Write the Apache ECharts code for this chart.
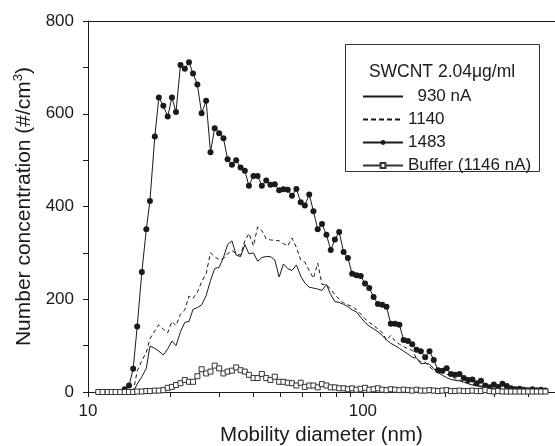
<!DOCTYPE html>
<html>
<head>
<meta charset="utf-8">
<script src="https://cdn.jsdelivr.net/npm/echarts@6.0.0/dist/echarts.min.js"></script>
<style>
  html, body { margin: 0; padding: 0; background: #fff; }
  #main { width: 555px; height: 446px; }
</style>
</head>
<body>
<div id="main"></div>
<script>
// SMPS channel midpoints (nm), 64 channels per decade
var diam = [10.2, 10.6, 10.9, 11.3, 11.8, 12.2, 12.6, 13.1, 13.6, 14.1,
  14.6, 15.1, 15.7, 16.3, 16.8, 17.5, 18.1, 18.8, 19.5, 20.2,
  20.9, 21.7, 22.5, 23.3, 24.1, 25.0, 25.9, 26.9, 27.9, 28.9,
  30.0, 31.1, 32.2, 33.4, 34.6, 35.9, 37.2, 38.5, 40.0, 41.4,
  42.9, 44.5, 46.1, 47.8, 49.6, 51.4, 53.3, 55.2, 57.3, 59.4,
  61.5, 63.8, 66.1, 68.5, 71.0, 73.7, 76.4, 79.1, 82.0, 85.1,
  88.2, 91.4, 94.7, 98.2, 101.8, 105.5, 109.4, 113.4, 117.6, 121.9,
  126.3, 131.0, 135.8, 140.7, 145.9, 151.2, 156.8, 162.5, 168.5, 174.7,
  181.1, 187.7, 194.6, 201.7, 209.1, 216.7, 224.7, 232.9, 241.4, 250.3,
  259.5, 269.0, 278.8, 289.0, 299.6, 310.6, 322.0, 333.8, 346.0, 358.7,
  371.8, 385.4, 399.5, 414.2, 429.4, 445.1, 461.4];

// 930 nA (solid), starts at channel 10
var start930 = 10;
var conc930 = [0, 17, 33, 51, 99, 94, 88, 80, 93, 110,
  100, 130, 150, 152, 178, 182, 188, 208, 240, 266,
  269, 290, 318, 326, 295, 292, 318, 298, 300, 282,
  290, 292, 292, 285, 248, 276, 266, 262, 274, 250,
  235, 226, 224, 222, 219, 232, 210, 195, 193, 189,
  184, 177, 173, 161, 150, 142, 136, 130, 122, 112,
  105, 100, 94, 88, 82, 75, 73, 61, 62, 60,
  50, 42, 36, 31, 27, 25, 24, 21, 18, 15,
  13, 11, 9, 8, 7, 6, 5, 5, 4, 4,
  3, 3, 2, 2, 2, 1, 1];

// 1140 nA (dashed), starts at channel 10
var start1140 = 10;
var conc1140 = [0, 45, 68, 85, 115, 132, 145, 135, 128, 152,
  143, 168, 177, 207, 202, 215, 238, 255, 300, 292,
  285, 288, 298, 305, 298, 295, 326, 342, 315, 356,
  348, 330, 328, 327, 326, 320, 315, 332, 312, 285,
  280, 262, 245, 278, 232, 231, 222, 210, 200, 192,
  188, 184, 178, 168, 158, 150, 143, 136, 128, 112,
  122, 110, 103, 98, 93, 90, 72, 65, 64, 55,
  46, 50, 41, 38, 36, 28, 26, 22, 20, 17,
  15, 13, 11, 9, 8, 7, 6, 5, 5, 4,
  4, 3, 3, 2, 2, 2, 1];

// 1483 nA (dots), starts at channel 8
var start1483 = 8;
var conc1483 = [6, 14, 50, 141, 259, 351, 412, 551, 635, 617,
  594, 635, 604, 705, 697, 711, 687, 663, 601, 628,
  517, 569, 558, 547, 502, 490, 500, 484, 477, 445,
  466, 466, 445, 456, 447, 448, 435, 437, 436, 423,
  438, 409, 402, 426, 390, 351, 362, 339, 306, 329,
  345, 302, 289, 255, 252, 250, 234, 224, 205, 190,
  188, 184, 147, 147, 145, 112, 110, 103, 91, 88,
  75, 88, 69, 47, 46, 51, 39, 37, 39, 30,
  26, 27, 19, 24, 14, 10, 16, 11, 18, 13,
  8, 6, 7, 5, 4, 6, 4, 5, 3];

// Buffer (1146 nA), squares, starts at channel 2
var startBuf = 2;
var concBuf = [0, 0, 0, 0, 0, 0, 0, 0, 0, 1,
  1, 2, 2, 3, 3, 4, 9, 11, 15, 19,
  26, 22, 22, 34, 49, 40, 44, 57, 51, 40,
  44, 46, 53, 47, 44, 37, 30, 30, 39, 30,
  26, 33, 22, 22, 20, 19, 14, 20, 11, 14,
  14, 10, 17, 14, 10, 10, 8, 8, 6, 8,
  5, 7, 9, 5, 6, 8, 5, 4, 6, 5,
  4, 5, 4, 3, 5, 3, 3, 4, 3, 2,
  3, 4, 2, 2, 3, 2, 2, 3, 2, 2,
  4, 2, 1, 2, 1, 1, 1, 1, 1, 1,
  1, 1, 1, 1, 1];

var xTicks = [10, 20, 30, 40, 50, 60, 70, 80, 90, 100, 200, 300, 400];
var xLabels = [10, 100];

function pairs(start, vals) {
  return vals.map(function (v, i) { return [diam[start + i], v]; });
}

var ink = '#1a1a1a';
var font = 'Liberation Sans, Arial, sans-serif';

var myChart = echarts.init(document.getElementById('main'));

var option = {
  animation: false,
  backgroundColor: '#fff',
  textStyle: { fontFamily: font, color: ink },
  grid: { left: 88, top: 21, right: 0, bottom: 54, outerBoundsMode: 'none' },
  xAxis: [
    {
      type: 'log',
      logBase: 10,
      min: 10,
      max: 500,
      axisLine: { show: true, onZero: false, lineStyle: { color: ink, width: 1 } },
      axisTick: { show: true, length: 5, customValues: xTicks, lineStyle: { color: ink } },
      axisLabel: { customValues: xLabels, fontSize: 17, margin: 11, color: ink, fontFamily: font },
      splitLine: { show: false },
      name: 'Mobility diameter (nm)',
      nameLocation: 'middle',
      nameGap: 26,
      nameTextStyle: { fontSize: 20.5, color: ink, fontFamily: font }
    },
    {
      type: 'log',
      position: 'top',
      min: 10,
      max: 500,
      axisLine: { show: true, onZero: false, lineStyle: { color: ink, width: 1 } },
      axisTick: { show: false },
      axisLabel: { show: false },
      splitLine: { show: false }
    }
  ],
  yAxis: {
    type: 'value',
    min: 0,
    max: 800,
    interval: 200,
    axisLine: { show: true, onZero: false, lineStyle: { color: ink, width: 1 } },
    axisTick: { show: true, length: 5, lineStyle: { color: ink } },
    minorTick: { show: true, splitNumber: 2, length: 5, lineStyle: { color: ink } },
    axisLabel: { fontSize: 17, margin: 14, color: ink, fontFamily: font },
    splitLine: { show: false },
    name: 'Number concentration (#/cm{sup|3})',
    nameLocation: 'middle',
    nameGap: 45,
    nameTextStyle: {
      fontSize: 21, color: ink, fontFamily: font,
      rich: { sup: { fontSize: 13, verticalAlign: 'top', padding: [0, 0, 12, 0], fontFamily: font, color: ink } }
    }
  },
  legend: {
    orient: 'vertical',
    left: 357,
    top: 83,
    itemWidth: 40,
    itemHeight: 6,
    itemGap: 6,
    textStyle: { fontSize: 17, color: ink, fontFamily: font },
    formatter: function (name) { return name === '930 nA' ? '  930 nA' : name; },
    data: [
      { name: '930 nA', itemStyle: { opacity: 0 } },
      { name: '1140', itemStyle: { opacity: 0 }, lineStyle: { type: [5, 3] } },
      { name: '1483' },
      { name: 'Buffer (1146 nA)' }
    ]
  },
  graphic: [
    {
      type: 'rect',
      shape: { x: 345.5, y: 44.5, width: 194, height: 127 },
      style: { fill: 'none', stroke: '#333', lineWidth: 1 }
    },
    {
      type: 'text',
      x: 442,
      y: 72,
      style: { text: 'SWCNT 2.04\u03BCg/ml', font: '17.5px ' + font, fill: ink, align: 'center', verticalAlign: 'middle' }
    }
  ],
  series: [
    {
      name: '930 nA',
      type: 'line',
      symbol: 'none',
      itemStyle: { color: ink },
      lineStyle: { color: ink, width: 1 },
      data: pairs(start930, conc930)
    },
    {
      name: '1140',
      type: 'line',
      symbol: 'none',
      itemStyle: { color: ink },
      lineStyle: { color: ink, width: 1, type: [4, 3] },
      data: pairs(start1140, conc1140)
    },
    {
      name: '1483',
      type: 'line',
      symbol: 'circle',
      symbolSize: 6,
      itemStyle: { color: ink },
      lineStyle: { color: ink, width: 1 },
      data: pairs(start1483, conc1483)
    },
    {
      name: 'Buffer (1146 nA)',
      type: 'line',
      symbol: 'rect',
      symbolSize: 5,
      itemStyle: { color: '#fff', borderColor: '#333', borderWidth: 1 },
      lineStyle: { color: '#333', width: 1 },
      data: pairs(startBuf, concBuf)
    }
  ]
};
myChart.setOption(option);
</script>
</body>
</html>
